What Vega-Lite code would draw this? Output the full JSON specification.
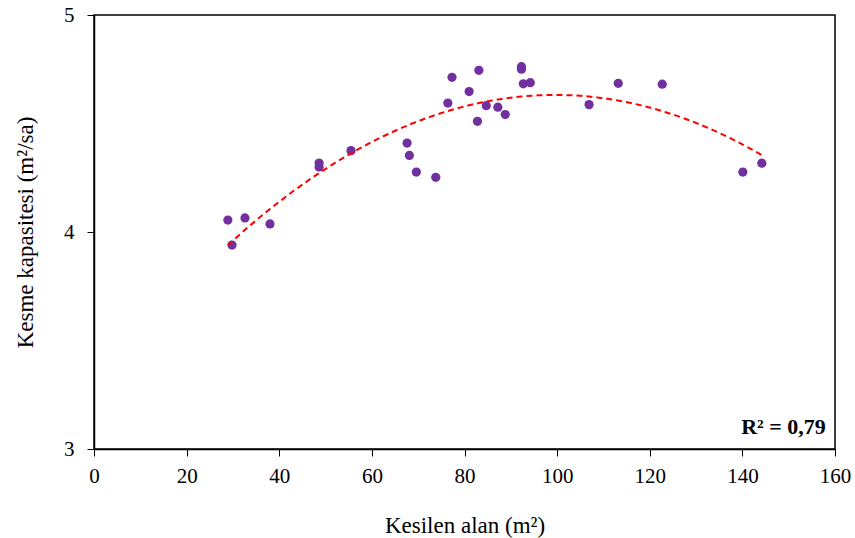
{
  "$schema": "https://vega.github.io/schema/vega-lite/v6.json",
  "width": 741,
  "height": 434,
  "autosize": "none",
  "padding": {"left": 94, "top": 15, "right": 20, "bottom": 89},
  "background": "white",
  "config": {
    "view": {"stroke": "black", "strokeWidth": 1.5},
    "font": "Liberation Serif",
    "axis": {
      "grid": false,
      "domainColor": "black",
      "tickColor": "black",
      "labelColor": "black",
      "titleColor": "black",
      "labelFont": "Liberation Serif",
      "titleFont": "Liberation Serif",
      "labelFontSize": 21,
      "titleFontSize": 23,
      "titleFontWeight": "normal",
      "tickSize": 7,
      "domainWidth": 1.5,
      "labelFlush": false,
      "labelOverlap": false,
      "labelBound": false
    }
  },
  "data": {
    "values": [
      {"x": 28.9, "y": 4.055},
      {"x": 29.8, "y": 3.94},
      {"x": 32.6, "y": 4.065},
      {"x": 38.0, "y": 4.037},
      {"x": 48.6, "y": 4.318},
      {"x": 48.6, "y": 4.300},
      {"x": 55.5, "y": 4.375},
      {"x": 67.6, "y": 4.410},
      {"x": 68.1, "y": 4.353},
      {"x": 69.6, "y": 4.276},
      {"x": 73.8, "y": 4.252},
      {"x": 76.4, "y": 4.594},
      {"x": 77.3, "y": 4.713},
      {"x": 81.0, "y": 4.647},
      {"x": 82.8, "y": 4.510},
      {"x": 83.1, "y": 4.745},
      {"x": 84.7, "y": 4.582},
      {"x": 87.2, "y": 4.575},
      {"x": 88.8, "y": 4.541},
      {"x": 92.3, "y": 4.762},
      {"x": 92.3, "y": 4.750},
      {"x": 92.7, "y": 4.683},
      {"x": 94.2, "y": 4.688},
      {"x": 106.9, "y": 4.587},
      {"x": 113.2, "y": 4.685},
      {"x": 122.7, "y": 4.681},
      {"x": 140.1, "y": 4.276},
      {"x": 144.2, "y": 4.317}
    ]
  },
  "layer": [
    {
      "mark": {"type": "circle", "size": 85, "color": "#7030A0", "opacity": 1},
      "encoding": {
        "x": {
          "field": "x", "type": "quantitative",
          "scale": {"domain": [0, 160], "nice": false},
          "axis": {"values": [0, 20, 40, 60, 80, 100, 120, 140, 160], "title": "Kesilen alan (m²)", "labelPadding": 9, "titlePadding": 28}
        },
        "y": {
          "field": "y", "type": "quantitative",
          "scale": {"domain": [3, 5], "nice": false, "zero": false},
          "axis": {"values": [3, 4, 5], "format": ".0f", "title": "Kesme kapasitesi  (m²/sa)", "labelPadding": 13, "titlePadding": 26}
        }
      }
    },
    {
      "transform": [{"regression": "y", "on": "x", "method": "poly", "order": 2}],
      "mark": {"type": "line", "color": "#FF0000", "strokeWidth": 2, "strokeDash": [6, 4]},
      "encoding": {
        "x": {"field": "x", "type": "quantitative"},
        "y": {"field": "y", "type": "quantitative"}
      }
    },
    {
      "data": {"values": [{"label": "R² = 0,79", "lx": 158, "ly": 3.069}]},
      "mark": {"type": "text", "align": "right", "baseline": "alphabetic", "fontSize": 22, "fontWeight": "bold", "font": "Liberation Serif", "color": "black"},
      "encoding": {
        "x": {"field": "lx", "type": "quantitative"},
        "y": {"field": "ly", "type": "quantitative"},
        "text": {"field": "label", "type": "nominal"}
      }
    }
  ]
}
